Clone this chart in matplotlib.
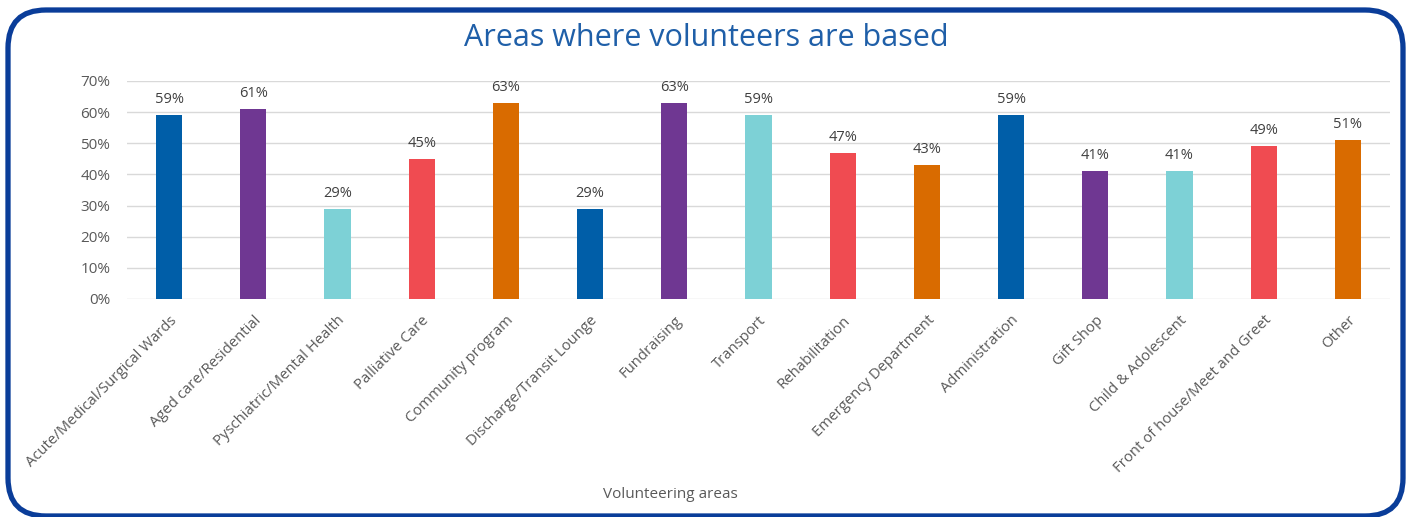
import matplotlib

matplotlib.use("Agg")

import matplotlib.pyplot as plt
from matplotlib.patches import FancyBboxPatch
from matplotlib.ticker import FuncFormatter

areas = [
    "Acute/Medical/Surgical Wards",
    "Aged care/Residential",
    "Pyschiatric/Mental Health",
    "Palliative Care",
    "Community program",
    "Discharge/Transit Lounge",
    "Fundraising",
    "Transport",
    "Rehabilitation",
    "Emergency Department",
    "Administration",
    "Gift Shop",
    "Child & Adolescent",
    "Front of house/Meet and Greet",
    "Other",
]
share = [59, 61, 29, 45, 63, 29, 63, 59, 47, 43, 59, 41, 41, 49, 51]
palette = ["#005EA8", "#6F3792", "#7DD1D6", "#F04B51", "#D96B00"]

W, H = 1412, 517
fig = plt.figure(figsize=(W / 100, H / 100), dpi=100)
plt.rcParams["font.family"] = ["Open Sans", "DejaVu Sans"]

# rounded frame drawn in pixel units
bg = fig.add_axes([0, 0, 1, 1])
bg.set_xlim(0, W)
bg.set_ylim(0, H)
bg.axis("off")
frame = FancyBboxPatch((8, 1), 1395, 506,
                       boxstyle="round,pad=0,rounding_size=38",
                       fc="white", ec="#0A3D99", lw=3.8)
bg.add_patch(frame)

ax = fig.add_axes([127 / W, 1 - 299 / H, (1390 - 127) / W, (299 - 81) / H])
ax.set_facecolor("none")
colors = [palette[i % len(palette)] for i in range(len(areas))]
x = range(len(areas))
bars = ax.bar(x, share, width=0.31, color=colors, zorder=3)
for b, v in zip(bars, share):
    ax.text(b.get_x() + b.get_width() / 2, v + 2.6, f"{v}%",
            ha="center", va="bottom", fontsize=10.5, color="#404040")

ax.set_xlim(-0.5, len(areas) - 0.5)
ax.set_ylim(0, 70)
ax.set_yticks(range(0, 71, 10))
ax.yaxis.set_major_formatter(FuncFormatter(lambda v, _: f"{v:.0f}%"))
ax.grid(axis="y", color="#D9D9D9", lw=1, zorder=0)
for s in ax.spines.values():
    s.set_visible(False)
ax.tick_params(length=0, colors="#595959", labelsize=11)
ax.tick_params(axis="y", pad=12)
ax.tick_params(axis="x", pad=10)
ax.set_xticks(list(x))
ax.set_xticklabels(areas, rotation=45, ha="right", rotation_mode="anchor",
                   fontsize=10.7, color="#595959")

fig.text(706 / W, 1 - 38 / H, "Areas where volunteers are based",
         ha="center", va="center", fontsize=22, color="#1F5FA8")
fig.text(670 / W, 1 - 495 / H, "Volunteering areas",
         ha="center", va="center", fontsize=11, color="#595959")

fig.savefig("out.png", dpi=100)
